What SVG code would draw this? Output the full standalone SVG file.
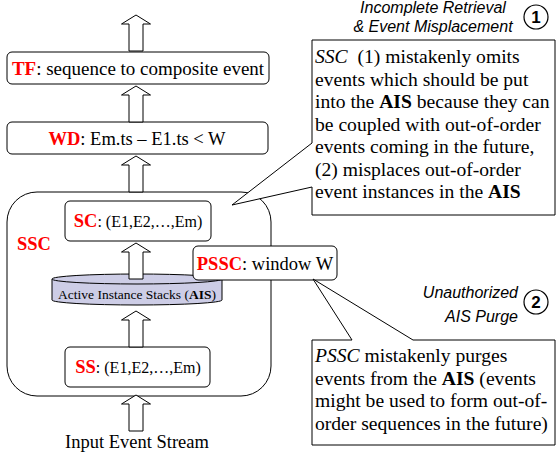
<svg xmlns="http://www.w3.org/2000/svg" width="557" height="455" viewBox="0 0 557 455">
<style>
.box{fill:#fff;stroke:#000;stroke-width:1}
.t{font-family:"Liberation Serif","Times New Roman",serif;fill:#000}
.m{font-size:18.5px}
.red{fill:#ff0000;font-weight:bold}
.b{font-weight:bold}
.it{font-style:italic}
.c{font-size:19.6px}
.lab{font-family:"Liberation Sans",Arial,sans-serif;font-style:italic;font-size:16px;fill:#000}
.num{font-family:"Liberation Sans",Arial,sans-serif;font-weight:bold;font-size:17px;fill:#000}
.arr{fill:#fff;stroke:#000;stroke-width:1}
</style>
<defs>
<path id="up" class="arr" d="M136,0 L150.5,9 L143,9 L143,36 L129,36 L129,9 L121.5,9 Z"/>
</defs>
<g id="ssc">
<rect class="box" x="7" y="192" width="264" height="204" rx="30"/>
<text class="t m red" x="17" y="250">SSC</text>
</g>
<g id="tf">
<rect class="box" x="7" y="52" width="262" height="32" rx="5"/>
<text class="t" font-size="19" x="138" y="74.5" text-anchor="middle"><tspan class="red">TF</tspan>: sequence to composite event</text>
</g>
<g id="wd">
<rect class="box" x="7" y="122" width="261" height="32" rx="5"/>
<text class="t m" x="137" y="144.5" text-anchor="middle"><tspan class="red">WD</tspan>: Em.ts – E1.ts &lt; W</text>
</g>
<g id="sc">
<rect class="box" x="65" y="201" width="146" height="40" rx="5"/>
<text class="t" x="138" y="227" text-anchor="middle"><tspan class="red" font-size="18.5">SC</tspan><tspan font-size="16">: (E1,E2,…,Em)</tspan></text>
</g>
<g id="ais">
<path d="M52,279 L52,300 A85,5 0 0 0 222,300 L222,279" fill="#cdcde6" stroke="#000" stroke-width="1"/>
<ellipse cx="137" cy="279" rx="85" ry="5" fill="#cdcde6" stroke="#000" stroke-width="1"/>
<text class="t" x="137" y="298.5" text-anchor="middle" font-size="13.5">Active Instance Stacks (<tspan class="b">AIS</tspan>)</text>
</g>
<g id="ss">
<rect class="box" x="65" y="347" width="145" height="40" rx="5"/>
<text class="t" x="138" y="373" text-anchor="middle"><tspan class="red" font-size="18.5">SS</tspan><tspan font-size="16">: (E1,E2,…,Em)</tspan></text>
</g>
<g id="pssc">
<rect class="box" x="193" y="246" width="144" height="34" rx="5"/>
<text class="t m" x="265" y="269.5" text-anchor="middle"><tspan class="red">PSSC</tspan>: window W</text>
</g>
<g id="input">
<text class="t m" x="137" y="448" text-anchor="middle">Input Event Stream</text>
</g>
<g id="connectors">
<use href="#up" y="15"/>
<use href="#up" y="86"/>
<use href="#up" y="156"/>
<use href="#up" y="243"/>
<use href="#up" y="311"/>
<use href="#up" y="395"/>
</g>
<g id="callout1">
<path class="box" d="M312,40 L555,40 L555,215 L312,215 L312,187 L232,205 L312,143 Z"/>
<text class="t c">
<tspan x="315" y="63"><tspan class="it">SSC</tspan>&#160; (1) mistakenly omits</tspan>
<tspan x="315" y="85.5">events which should be put</tspan>
<tspan x="315" y="108">into the <tspan class="b">AIS</tspan> because they can</tspan>
<tspan x="315" y="130.5">be coupled with out-of-order</tspan>
<tspan x="315" y="153">events coming in the future,</tspan>
<tspan x="315" y="175.5">(2) misplaces out-of-order</tspan>
<tspan x="315" y="198">event instances in the <tspan class="b">AIS</tspan></tspan>
</text>
<text class="lab" x="433" y="13" text-anchor="middle">Incomplete Retrieval</text>
<text class="lab" x="433" y="32" text-anchor="middle">&amp; Event Misplacement</text>
<circle cx="536" cy="17" r="12" fill="#fff" stroke="#000" stroke-width="1.2"/>
<text class="num" x="536" y="23" text-anchor="middle">1</text>
</g>
<g id="callout2">
<path class="box" d="M312,340 L352,340 L313,279 L413,340 L555,340 L555,445 L312,445 Z"/>
<text class="t c">
<tspan x="315" y="362"><tspan class="it">PSSC</tspan> mistakenly purges</tspan>
<tspan x="315" y="384.5">events from the <tspan class="b">AIS</tspan> (events</tspan>
<tspan x="315" y="407">might be used to form out-of-</tspan>
<tspan x="315" y="429.5">order sequences in the future)</tspan>
</text>
<text class="lab" x="518" y="298" text-anchor="end">Unauthorized</text>
<text class="lab" x="518" y="322" text-anchor="end">AIS Purge</text>
<circle cx="536" cy="302" r="12" fill="#fff" stroke="#000" stroke-width="1.2"/>
<text class="num" x="536" y="308" text-anchor="middle">2</text>
</g>
</svg>
